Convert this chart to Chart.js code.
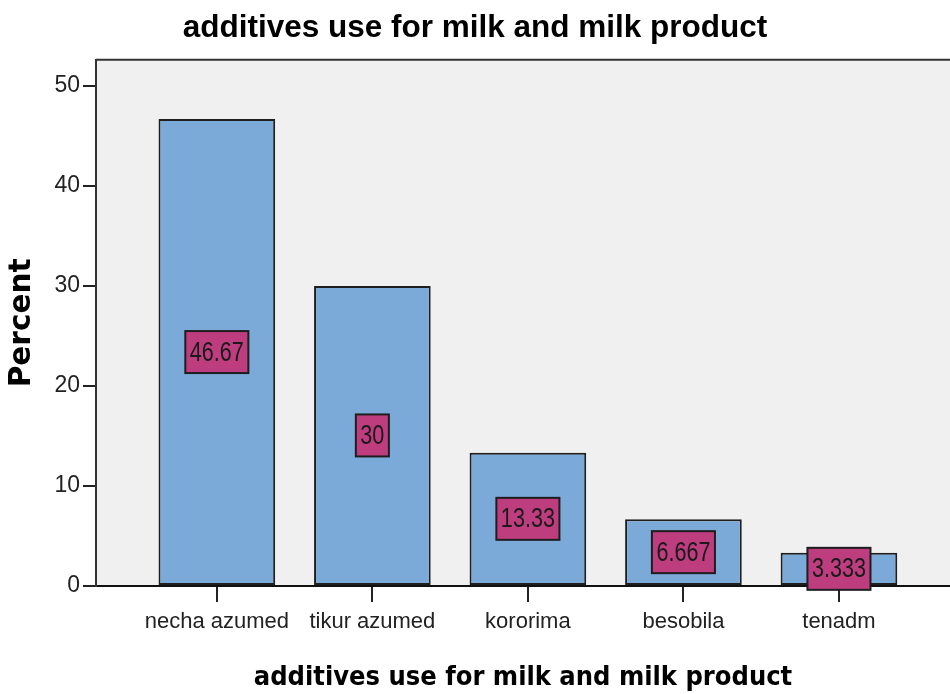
<!DOCTYPE html>
<html>
<head>
<meta charset="utf-8">
<script src="https://cdn.jsdelivr.net/npm/chart.js@4/dist/chart.umd.min.js"></script>
<style>
  html, body { margin: 0; padding: 0; background: #fff; }
  #wrap { width: 950px; height: 694px; position: relative; }
</style>
</head>
<body>
<div id="wrap"><canvas id="chart"></canvas></div>
<script>
// values
const categories = ["necha azumed", "tikur azumed", "kororima", "besobila", "tenadm"];
const percents = [46.67, 30, 13.33, 6.667, 3.333];
const valueLabels = ["46.67", "30", "13.33", "6.667", "3.333"];
const yTicks = [0, 10, 20, 30, 40, 50];

const sans = '"Liberation Sans", Arial, sans-serif';

// gray plot background and the top frame line
const plotFrame = {
    id: "plotFrame",
    beforeDraw(chart) {
        const { ctx, chartArea: a } = chart;
        ctx.save();
        ctx.fillStyle = "#ffffff";
        ctx.fillRect(0, 0, chart.width, chart.height);
        ctx.fillStyle = "#f0f0f0";
        ctx.fillRect(a.left, a.top, a.right - a.left, a.bottom - a.top);
        ctx.strokeStyle = "#333333";
        ctx.lineWidth = 2;
        ctx.beginPath();
        ctx.moveTo(a.left, a.top);
        ctx.lineTo(a.right, a.top);
        ctx.stroke();
        ctx.restore();
    }
};

// magenta value boxes in the middle of each bar (narrow text like SPSS)
const squeeze = 0.8;
const valueBoxes = {
    id: "valueBoxes",
    afterDatasetsDraw(chart) {
        const { ctx } = chart;
        const meta = chart.getDatasetMeta(0);
        ctx.save();
        ctx.font = "27px " + sans;
        ctx.textAlign = "center";
        ctx.textBaseline = "middle";
        meta.data.forEach((bar, i) => {
            const text = valueLabels[i];
            const cx = bar.x;
            const cy = (bar.y + bar.base) / 2;
            const w = ctx.measureText(text).width * squeeze + 9;
            const h = 42;
            ctx.fillStyle = "#be3d7f";
            ctx.fillRect(cx - w / 2, cy - h / 2, w, h);
            ctx.strokeStyle = "#1e1e1e";
            ctx.lineWidth = 2;
            ctx.strokeRect(cx - w / 2, cy - h / 2, w, h);
            ctx.save();
            ctx.translate(cx, cy + 1);
            ctx.scale(squeeze, 1);
            ctx.fillStyle = "#1a1a1a";
            ctx.fillText(text, 0, 0);
            ctx.restore();
        });
        ctx.restore();
    }
};

const ctx = document.getElementById("chart").getContext("2d");

new Chart(ctx, {
    type: "bar",
    data: {
        datasets: [{
            label: "Percent",
            data: percents.map((v, i) => ({ x: i, y: v })),
            backgroundColor: "#7baad8",
            borderColor: "#1e1e1e",
            borderWidth: 2,
            borderSkipped: false,
            categoryPercentage: 1,
            barPercentage: 0.75,
        }],
    },
    options: {
        responsive: true,
        maintainAspectRatio: false,
        animation: false,
        layout: { padding: 0 },
        plugins: {
            legend: { display: false },
            tooltip: { enabled: false },
            title: {
                display: true,
                text: "additives use for milk and milk product",
                color: "#000",
                font: { family: sans, size: 31.5, weight: "bold" },
                padding: { top: 9, bottom: 13 },
            },
        },
        scales: {
            x: {
                type: "linear",
                offset: false,
                bounds: "data",
                min: -0.777,
                max: 4.714,
                afterBuildTicks(scale) {
                    scale.ticks = categories.map((c, i) => ({ value: i }));
                },
                afterFit(scale) { scale.height = 108; },
                ticks: {
                    autoSkip: false,
                    maxRotation: 0,
                    padding: 7,
                    color: "#222",
                    font: { family: sans, size: 22 },
                    callback: (v) => categories[v],
                },
                grid: { offset: false, drawOnChartArea: false, drawTicks: true, tickLength: 16, color: "#222", lineWidth: 2 },
                border: { display: true, color: "#111", width: 2 },
                title: {
                    display: true,
                    text: "additives use for milk and milk product",
                    color: "#000",
                    font: { family: '"DejaVu Sans Condensed", "DejaVu Sans", sans-serif', size: 27, weight: "bold" },
                    padding: { top: 0, bottom: 0 },
                },
            },
            y: {
                min: 0,
                max: 52.6,
                afterBuildTicks(scale) {
                    scale.ticks = yTicks.map((v) => ({ value: v }));
                },
                afterFit(scale) { scale.width = 96; },
                ticks: {
                    padding: 3,
                    color: "#222",
                    font: { family: sans, size: 23 },
                },
                grid: { drawOnChartArea: false, drawTicks: true, tickLength: 13, color: "#222", lineWidth: 2 },
                border: { display: true, color: "#333", width: 2 },
                title: {
                    display: true,
                    text: "Percent",
                    color: "#000",
                    font: { family: '"DejaVu Sans", sans-serif', size: 29.5, weight: "bold" },
                    padding: { top: 5, bottom: 0 },
                },
            },
        },
    },
    plugins: [plotFrame, valueBoxes],
});
</script>
</body>
</html>
